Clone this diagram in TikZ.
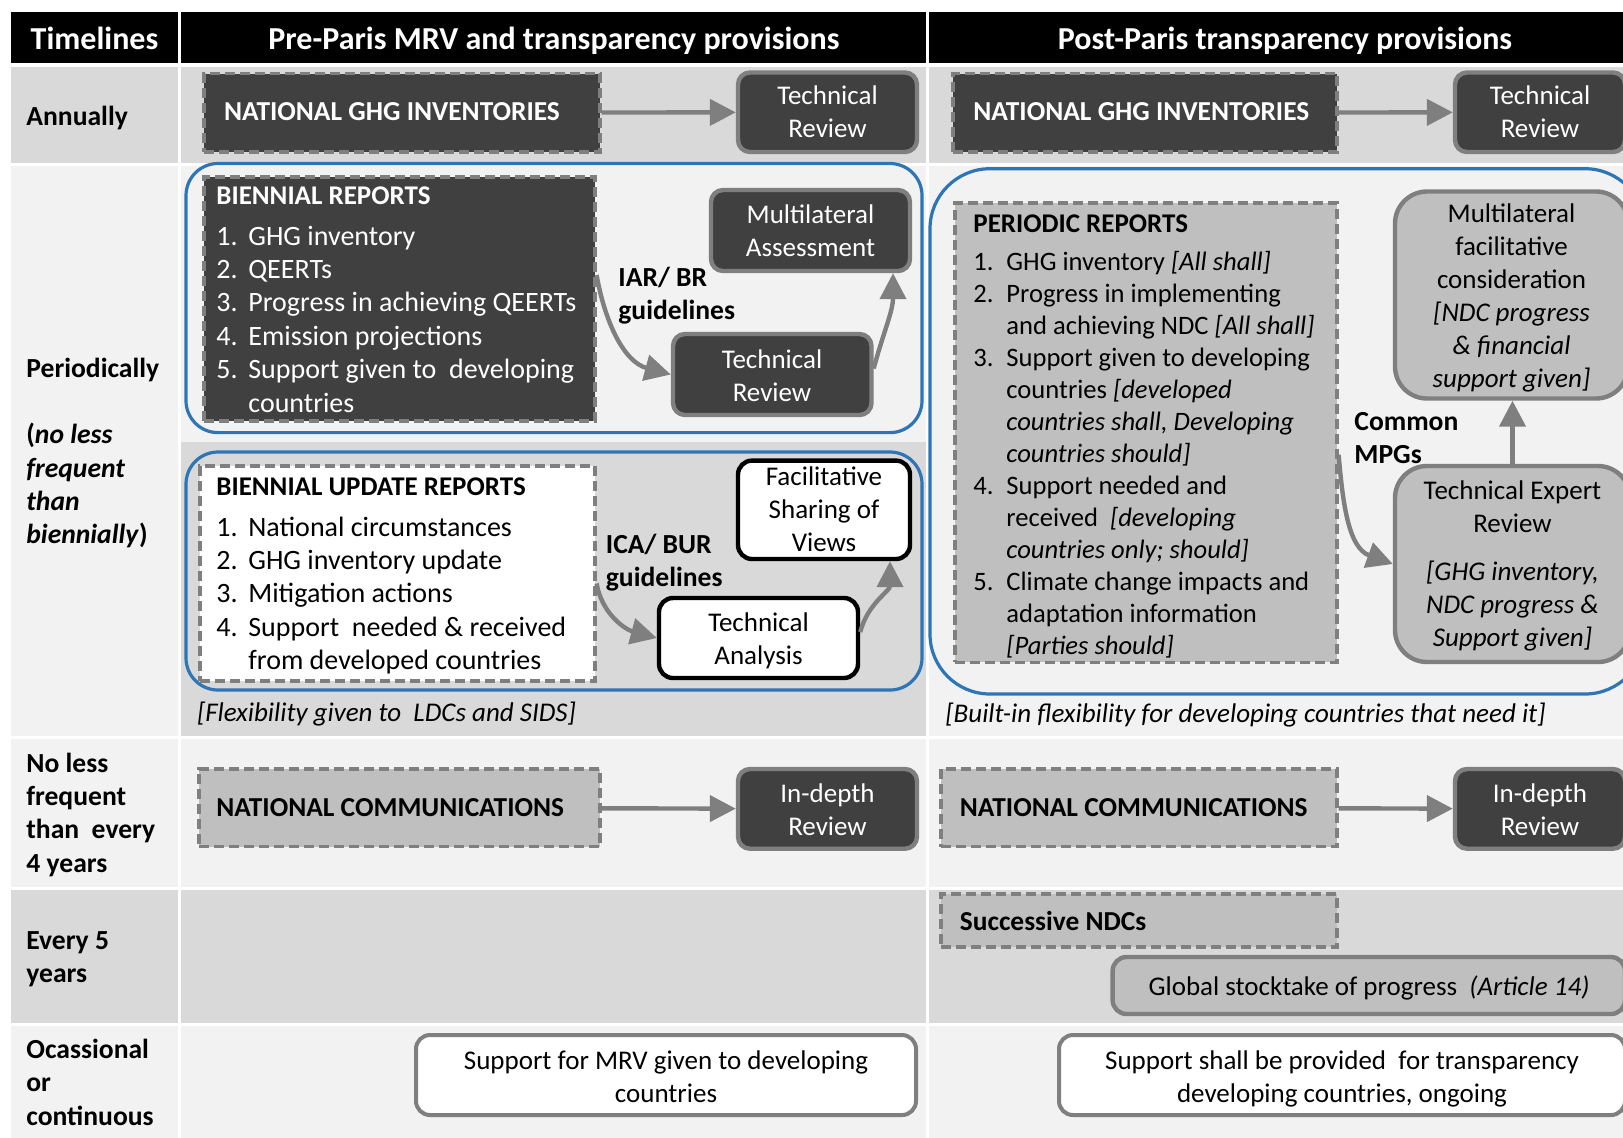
\documentclass[tikz,border=0pt]{standalone}
\usepackage{fontspec}
\setmainfont{Carlito}
\usetikzlibrary{arrows.meta,fit}
\definecolor{dk}{HTML}{404040}
\definecolor{bd}{HTML}{7F7F7F}
\definecolor{gy}{HTML}{BFBFBF}
\definecolor{rowd}{HTML}{D9D9D9}
\definecolor{rowl}{HTML}{F2F2F2}
\definecolor{bl}{HTML}{2E75B6}
\newcommand{\myfs}{\fontsize{13.5}{16.5}\selectfont}
\newcommand{\listfs}{\fontsize{14}{16.7}\selectfont}
\newcommand{\prfs}{\fontsize{13.3}{16}\selectfont}
\tikzset{
 boxbase/.style={inner sep=0pt},
 darkbox/.style={boxbase, draw=bd, line width=2.2pt, fill=dk, rounded corners=6pt},
 dashline/.style={draw=bd, line width=1.6pt, dash pattern=on 5pt off 2.5pt},
 dashdark/.style={boxbase, dashline, fill=dk},
 dashgray/.style={boxbase, dashline, fill=gy},
 dashwhite/.style={boxbase, dashline, fill=white},
 blkbox/.style={boxbase, draw=black, line width=2.2pt, fill=white, rounded corners=7pt},
 graybox/.style={boxbase, draw=bd, line width=2.2pt, fill=gy, rounded corners=16pt},
 supbox/.style={boxbase, draw=bd, line width=2pt, fill=white, rounded corners=7pt},
 grp/.style={draw=bl, line width=1.6pt, rounded corners=#1, inner sep=0pt},
 hdr/.style={text=white, font=\fontsize{16}{19}\selectfont\bfseries, inner sep=0pt, anchor=base},
 rowlab/.style={anchor=base west, inner sep=0pt, align=left, font=\fontsize{13.8}{16.7}\selectfont\bfseries},
 ltxt/.style={anchor=base west, inner sep=0pt, align=left},
 ctxt/.style={anchor=base, inner sep=0pt, align=center, font=\myfs},
 btxt/.style={anchor=base west, inner sep=0pt, font=\fontsize{13.7}{16.5}\selectfont\bfseries},
 arr/.style={draw=bd, line width=2.2pt, -{Triangle[length=13pt,width=13pt]}},
}
\begin{document}
\begin{tikzpicture}[x=0.5pt,y=-0.5pt]
\useasboundingbox (0,0) rectangle (1623,1137);
\clip (0,0) rectangle (1623,1137);
\fill[white] (0,0) rectangle (1623,1137);
% header band
\fill[black] (11,12) rectangle (178,63);
\fill[black] (181,12) rectangle (926,63);
\fill[black] (929,12) rectangle (1650,63);
% row backgrounds
\foreach \xa/\xb in {11/178,181/926,929/1650}{
  \fill[rowd] (\xa,67) rectangle (\xb,163);
  \fill[rowl] (\xa,739) rectangle (\xb,887);
  \fill[rowd] (\xa,890) rectangle (\xb,1023);
  \fill[rowl] (\xa,1026) rectangle (\xb,1150);
}
\fill[rowl] (11,166) rectangle (178,736);
\fill[rowl] (181,166) rectangle (926,442);
\fill[rowd] (181,442) rectangle (926,736);
\fill[rowl] (929,166) rectangle (1650,736);

% headers
\node[hdr] (hT) at (94.5,49.5) {Timelines};
\node[hdr] (hPre) at (554,49.5) {Pre-Paris MRV and transparency provisions};
\node[hdr] (hPost) at (1285,49.5) {Post-Paris transparency provisions};

% row labels (multi-line nodes are placed by the baseline of their last line)
\node[rowlab] (lAnn) at (26,125) {Annually};
\node[rowlab] (lPer) at (26,377.5) {Periodically};
\node[rowlab] (lPer2) at (26,543.9) {(\textit{no less}\\\textit{frequent}\\\textit{than}\\\textit{biennially})};
\node[rowlab] (lFour) at (26,872.2) {No less\\frequent\\than\ \ every\\4 years};
\node[rowlab] (lFive) at (26,982.4) {Every 5\\years};
\node[rowlab] (lOcc) at (26,1125.3) {Ocassional\\or\\continuous};

% ---------- Annually ----------
\node[dashdark, fit={(204,73.5)(600,152)}] (ngiA) {};
\node[btxt, text=white] (ngiAt) at (223.6,120.8) {NATIONAL GHG INVENTORIES};
\node[darkbox, fit={(738,72.5)(917,152)}] (trA) {};
\node[ctxt, text=white] (trAt) at (827.5,137.3) {Technical\\Review};
\node[dashdark, fit={(953,73.5)(1337,152)}] (ngiB) {};
\node[btxt, text=white] (ngiBt) at (973,120.8) {NATIONAL GHG INVENTORIES};
\node[darkbox, fit={(1455,72.5)(1625,152)}] (trB) {};
\node[ctxt, text=white] (trBt) at (1540,137.3) {Technical\\Review};
\draw[arr] (ngiA) -- (trA);
\draw[arr] (ngiB) -- (trB);

% ---------- Periodically, pre-Paris ----------
\node[grp=16pt, fit={(186,163.5)(922,432.6)}] (gBR) {};
\node[dashdark, fit={(204,177)(595,421)}] (brbox) {};
\node[ltxt, text=white, font=\myfs\bfseries] (brT) at (216,204) {BIENNIAL REPORTS};
\foreach \lnum/\ltext [count=\i from 0] in {1./GHG inventory, 2./QEERTs, 3./Progress in achieving QEERTs, 4./Emission projections, 5./{Support given to\ \ developing}, /countries}
  \node[ltxt, text=white, font=\listfs] (br\i) at (216,245+33.4*\i) {\makebox[16pt][l]{\lnum}\ltext};
\node[darkbox, fit={(711,190)(910,271)}] (maA) {};
\node[ctxt, text=white] (maAt) at (810.5,256.4) {Multilateral\\Assessment};
\node[darkbox, fit={(673,334)(871.5,415)}] (trP) {};
\node[ctxt, text=white] (trPt) at (772,401.3) {Technical\\Review};
\node[ltxt, font=\fontsize{13.8}{16.7}\selectfont\bfseries] (iar) at (618,319.4) {IAR/ BR\\guidelines};
\draw[arr] ([yshift=12pt]brbox.east) to[out=-80,in=165] (trP.west);
\draw[arr] ([yshift=3pt]trP.east) to[out=75,in=-90] ([xshift=41.25pt]maA.south);

\node[grp=16pt, fit={(186,452)(922,690)}] (gBUR) {};
\node[dashwhite, fit={(200,466)(595,681)}] (burbox) {};
\node[ltxt, font=\myfs\bfseries] (burT) at (216,495) {BIENNIAL UPDATE REPORTS};
\foreach \lnum/\ltext [count=\i from 0] in {1./National circumstances, 2./GHG inventory update, 3./Mitigation actions, 4./{Support\ \ needed \& received}, /from developed countries}
  \node[ltxt, font=\listfs] (bur\i) at (216,536+33.4*\i) {\makebox[16pt][l]{\lnum}\ltext};
\node[blkbox, fit={(738,460.6)(910,559)}] (fsv) {};
\node[ctxt] (fsvt) at (824,551.3) {Facilitative\\Sharing of\\Views};
\node[blkbox, fit={(659,598)(858,678)}] (ta) {};
\node[ctxt] (tat) at (758.5,664.2) {Technical\\Analysis};
\node[ltxt, font=\fontsize{13.8}{16.7}\selectfont\bfseries] (ica) at (605.5,586.4) {ICA/ BUR\\guidelines};
\draw[arr] ([yshift=-5pt]burbox.east) to[out=-80,in=165] (ta.west);
\draw[arr] ([yshift=3pt]ta.east) to[out=75,in=-90] ([xshift=33pt]fsv.south);
\node[ltxt, font=\myfs\itshape] (flex) at (196.6,721) {[Flexibility given to\ \ LDCs and SIDS]};

% ---------- Periodically, post-Paris ----------
\node[grp=30pt, fit={(930,168.7)(1645,694)}] (gP) {};
\node[dashgray, fit={(955,203)(1337,662.4)}] (prbox) {};
\node[ltxt, font=\myfs\bfseries] (prT) at (973,232) {PERIODIC REPORTS};
\foreach \lnum/\ltext [count=\i from 0] in {1./{GHG inventory \textit{[All shall]}}, 2./Progress in implementing, /{and achieving NDC \textit{[All shall]}}, 3./Support given to developing, /{countries \textit{[developed}}, /{\textit{countries shall, Developing}}, /{\textit{countries should]}}, 4./Support needed and, /{received\ \ \textit{[developing}}, /{\textit{countries only; should]}}, 5./Climate change impacts and, /adaptation information, /{\textit{[Parties should]}}}
  \node[ltxt, font=\prfs] (pr\i) at (973,270+32*\i) {\makebox[16.5pt][l]{\lnum}\ltext};
\node[graybox, fit={(1395,191.5)(1628,398.5)}] (mfc) {};
\node[ctxt] (mfct) at (1511.5,387.8) {Multilateral\\facilitative\\consideration\\\textit{[NDC progress}\\\textit{\& financial}\\\textit{support given]}};
\node[graybox, fit={(1395,466)(1630,662)}] (ter) {};
\node[ctxt] (tert) at (1512.5,646.6) {Technical Expert\\Review\\[7.8pt]\textit{[GHG inventory,}\\\textit{NDC progress \&}\\\textit{Support given]}};
\node[ltxt, font=\fontsize{13.8}{16.7}\selectfont\bfseries] (mpg) at (1354,463.4) {Common\\MPGs};
\draw[arr] ([yshift=-11pt]prbox.east) to[out=-85,in=160] (ter.west);
\draw[arr] (ter.north) -- (ter.north |- mfc.south);
\node[ltxt, font=\myfs\itshape] (builtin) at (945,722) {[Built-in flexibility for developing countries that need it]};

% ---------- No less than every 4 years ----------
\node[dashgray, fit={(199,769)(600,846.6)}] (ncA) {};
\node[btxt] (ncAt) at (216,816.3) {NATIONAL COMMUNICATIONS};
\node[darkbox, fit={(738,769)(917,848.7)}] (idA) {};
\node[ctxt, text=white] (idAt) at (827.5,835) {In-depth\\Review};
\node[dashgray, fit={(941,769)(1337,846.6)}] (ncB) {};
\node[btxt] (ncBt) at (959.5,816.3) {NATIONAL COMMUNICATIONS};
\node[darkbox, fit={(1455,769)(1625,848.7)}] (idB) {};
\node[ctxt, text=white] (idBt) at (1540,835) {In-depth\\Review};
\draw[arr] (ncA) -- (idA);
\draw[arr] (ncB) -- (idB);

% ---------- Every 5 years ----------
\node[dashgray, fit={(941,894)(1337,947)}] (sndc) {};
\node[btxt] (sndct) at (959.5,930) {Successive NDCs};
\node[graybox, rounded corners=7pt, fit={(1112.6,957)(1625,1014)}] (gst) {};
\node[ctxt] (gstt) at (1369,995.4) {Global stocktake of progress\ \ \textit{(Article 14)}};

% ---------- Occasional ----------
\node[supbox, fit={(416,1035)(916,1115)}] (supA) {};
\node[ctxt] (supAt) at (666,1102) {Support for MRV given to developing\\countries};
\node[supbox, fit={(1059,1035)(1625,1115)}] (supB) {};
\node[ctxt] (supBt) at (1342,1102) {Support shall be provided\ \ for transparency\\developing countries, ongoing};
\end{tikzpicture}
\end{document}
